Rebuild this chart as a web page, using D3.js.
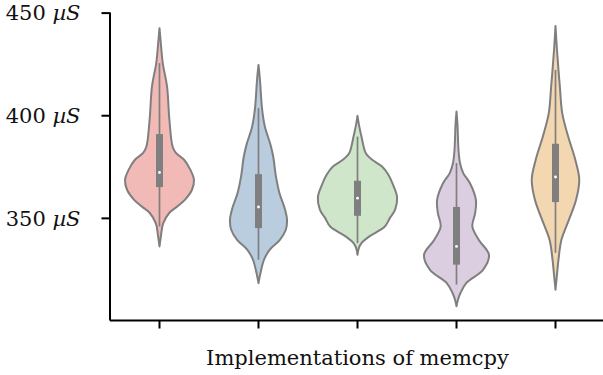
<!DOCTYPE html>
<html>
<head>
<meta charset="utf-8">
<script src="https://cdn.jsdelivr.net/npm/d3@7/dist/d3.min.js"></script>
<style>
  html, body { margin: 0; padding: 0; background: #fff; }
  svg { display: block; }
  text { font-family: "DejaVu Serif", "Liberation Serif", serif; fill: #111; }
</style>
</head>
<body>
<svg id="chart" width="603" height="375"></svg>
<script>
// Five memcpy implementations (unnamed on the axis)
const implementations = ["a", "b", "c", "d", "e"];
const fills = ["#f2bab6", "#b9cddf", "#cfe6ca", "#dccee1", "#f3d7b1"];

// Kernel density profiles: run time (µS) and relative density
const profileTimes = [
  [442.4, 434.3, 425.4, 414.0, 397.8, 384.8, 381.5, 378.3, 373.4, 368.6, 363.7, 358.8, 355.6, 352.5, 347.2, 341.3, 336.1],
  [424.5, 417.2, 403.5, 394.5, 385.8, 380.0, 370.2, 362.0, 354.1, 349.1, 344.2, 339.3, 334.4, 329.6, 323.1, 318.2],
  [399.7, 395.3, 389.6, 385.1, 381.5, 378.3, 375.0, 371.0, 366.9, 360.1, 354.0, 350.0, 345.8, 341.0, 337.7, 335.5, 332.0],
  [401.8, 395.3, 383.2, 376.7, 371.8, 366.9, 358.8, 352.3, 345.8, 339.3, 332.0, 324.7, 318.3, 313.4, 310.1, 306.9],
  [443.5, 431.8, 422.1, 414.0, 401.0, 389.6, 378.3, 368.6, 358.8, 349.1, 339.3, 329.6, 322.3, 315.0]
];
const profileDensity = [
  [0, 0.037, 0.082, 0.19, 0.25, 0.33, 0.42, 0.62, 0.78, 0.87, 0.82, 0.64, 0.45, 0.25, 0.09, 0.037, 0],
  [0, 0.037, 0.088, 0.16, 0.30, 0.37, 0.44, 0.53, 0.67, 0.72, 0.69, 0.54, 0.28, 0.14, 0.05, 0],
  [0, 0.037, 0.10, 0.15, 0.21, 0.37, 0.62, 0.78, 0.88, 1.0, 0.95, 0.82, 0.69, 0.30, 0.10, 0.037, 0],
  [0, 0.025, 0.05, 0.088, 0.17, 0.34, 0.49, 0.47, 0.40, 0.56, 0.82, 0.67, 0.25, 0.10, 0.037, 0],
  [0, 0.037, 0.075, 0.11, 0.17, 0.32, 0.50, 0.60, 0.52, 0.34, 0.15, 0.075, 0.037, 0]
];

// Box summaries (µS)
const q1 = [365.0, 345.0, 351.0, 327.2, 357.7];
const medians = [372.1, 355.3, 359.6, 336.1, 369.9];
const q3 = [390.8, 371.3, 368.1, 355.3, 386.1];
const whiskerLow = [345.8, 329.6, 337.7, 317.5, 333.0];
const whiskerHigh = [425.4, 403.5, 389.6, 376.7, 422.1];

const yTicks = [350, 400, 450];
const xTitle = "Implementations of memcpy";

const svg = d3.select("#chart");
const margin = { left: 110, top: 12.6, bottom: 320.5, right: 605 };

const x = d3.scaleBand().domain(implementations).range([margin.left, margin.right]).padding(0);
const y = d3.scaleLinear().domain([300, 450]).range([margin.bottom, margin.top]);
const w = d3.scaleLinear().domain([0, 1]).range([0, x.bandwidth() * 0.4]);

const lineGray = "#7f7f7f";

implementations.forEach((key, i) => {
  const cx = x(key) + x.bandwidth() / 2;
  const pts = profileTimes[i].map((t, j) => ({ t, d: profileDensity[i][j] }));
  const area = d3.area()
    .y(p => y(p.t))
    .x0(p => cx - w(p.d))
    .x1(p => cx + w(p.d))
    .curve(d3.curveCatmullRom.alpha(0.5));
  const g = svg.append("g").attr("class", "violin");
  g.append("path")
    .attr("d", area(pts))
    .attr("fill", fills[i])
    .attr("stroke", lineGray)
    .attr("stroke-width", 2)
    .attr("stroke-linejoin", "round");
  g.append("line")
    .attr("x1", cx).attr("x2", cx)
    .attr("y1", y(whiskerHigh[i])).attr("y2", y(whiskerLow[i]))
    .attr("stroke", lineGray).attr("stroke-width", 1.7);
  g.append("rect")
    .attr("x", cx - 3.5).attr("width", 7)
    .attr("y", y(q3[i])).attr("height", y(q1[i]) - y(q3[i]))
    .attr("fill", lineGray);
  g.append("circle")
    .attr("cx", cx).attr("cy", y(medians[i])).attr("r", 1.4)
    .attr("fill", "#fff");
});

// Axes
const yAxis = d3.axisLeft(y).tickValues(yTicks).tickSize(8.5).tickPadding(21).tickFormat(() => "");
const gy = svg.append("g").attr("transform", `translate(${margin.left},0)`).call(yAxis);
gy.select(".domain").attr("d", `M0,${margin.top}V${margin.bottom}`);
gy.selectAll("path, line").attr("stroke", "#000").attr("stroke-width", 2);
gy.selectAll(".tick text").each(function(v) {
  const t = d3.select(this).attr("font-size", 21).attr("fill", "#111").attr("dy", "0.34em");
  t.append("tspan").text(v + " ");
  t.append("tspan").attr("font-style", "italic").text("µS");
});

const xAxis = d3.axisBottom(x).tickSize(8).tickFormat(() => "");
const gx = svg.append("g").attr("transform", `translate(0,${margin.bottom})`).call(xAxis);
gx.select(".domain").attr("d", `M${margin.left},0H603`);
gx.selectAll("path, line").attr("stroke", "#000").attr("stroke-width", 2);

svg.append("text")
  .attr("x", (margin.left + margin.right) / 2)
  .attr("y", 365)
  .attr("text-anchor", "middle")
  .attr("font-size", 21)
  .text(xTitle);
</script>
</body>
</html>
